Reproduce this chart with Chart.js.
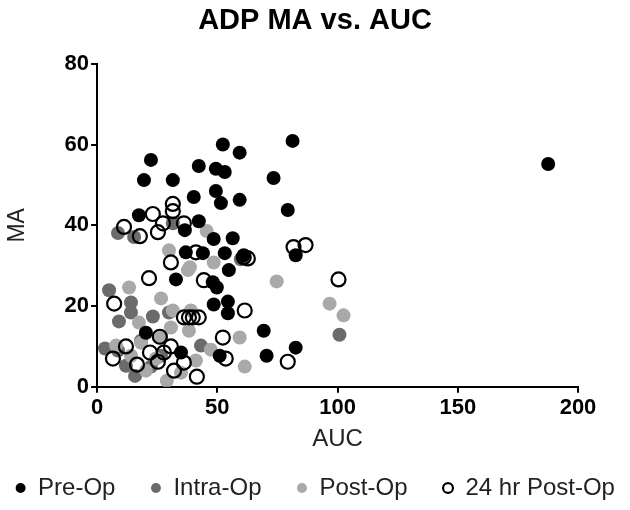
<!DOCTYPE html>
<html>
<head>
<meta charset="utf-8">
<script src="https://cdn.jsdelivr.net/npm/chart.js@4.4.1/dist/chart.umd.min.js"></script>
<style>
  html, body { margin: 0; padding: 0; background: #fff; }
  #wrap { width: 630px; height: 510px; position: relative; }
</style>
</head>
<body>
<div id="wrap"><canvas id="chart"></canvas></div>
<script>
// series labels
const seriesNames = ['Pre-Op', 'Intra-Op', 'Post-Op', '24 hr Post-Op'];

// values: [AUC, MA]
const preOp = [
  [187.6, 55.2], [81.3, 60.9], [52.3, 60.0], [59.3, 58.0], [22.4, 56.2],
  [19.5, 51.2], [31.5, 51.2], [42.3, 54.7], [49.4, 54.0], [53.1, 53.2],
  [73.4, 51.7], [49.4, 48.5], [40.2, 47.0], [51.5, 45.5], [59.3, 46.3],
  [79.3, 43.8], [17.4, 42.5], [42.3, 41.0], [36.5, 38.8], [48.5, 36.6],
  [56.4, 36.8], [82.6, 32.6], [36.9, 33.3], [44.0, 33.1], [53.1, 33.1],
  [61.0, 32.6], [54.8, 28.9], [48.1, 25.9], [49.8, 24.6], [48.5, 20.4],
  [54.4, 21.1], [54.4, 18.2], [69.3, 13.9], [70.5, 7.7], [82.6, 9.7],
  [51.0, 7.7], [20.3, 13.4], [34.9, 8.5], [32.8, 26.6]
];
const intraOp = [
  [8.7, 38.1], [15.4, 37.1], [31.5, 40.5], [59.8, 31.6], [43.2, 10.2],
  [100.8, 12.9], [5.0, 23.9], [14.1, 20.9], [14.1, 18.4], [9.1, 16.2],
  [23.2, 17.4], [29.9, 18.4], [8.7, 9.0], [12.0, 5.2], [15.8, 2.7],
  [22.4, 5.0], [26.6, 7.7], [18.3, 11.4], [3.3, 9.5]
];
const postOp = [
  [45.6, 38.6], [48.5, 30.8], [38.6, 29.6], [74.7, 26.1], [59.3, 12.2],
  [61.4, 5.0], [47.3, 9.2], [38.2, 13.9], [41.1, 6.5], [96.7, 20.6],
  [102.5, 17.7], [13.3, 24.6], [26.6, 21.9], [31.5, 18.9], [17.4, 15.9],
  [26.6, 12.2], [30.7, 14.7], [18.3, 10.9], [29.9, 33.8], [37.8, 28.9],
  [29.0, 1.5], [7.9, 10.2], [14.1, 7.7], [24.5, 7.0], [20.3, 4.0],
  [34.9, 3.5], [39.0, 18.9]
];
const postOp24 = [
  [31.5, 45.3], [31.5, 43.5], [23.2, 42.8], [11.2, 39.6], [17.8, 37.3],
  [25.3, 38.3], [27.4, 40.5], [36.1, 40.5], [30.7, 30.8], [21.6, 26.9],
  [41.1, 33.3], [61.0, 32.1], [62.7, 31.8], [44.4, 26.4], [61.4, 18.9],
  [52.3, 12.2], [53.5, 7.0], [79.3, 6.2], [41.5, 2.5], [38.2, 17.2],
  [39.8, 17.2], [42.3, 17.2], [36.1, 17.2], [81.7, 34.6], [86.7, 35.1],
  [100.4, 26.6], [7.1, 20.6], [26.1, 12.4], [12.0, 10.0], [6.6, 7.0],
  [16.6, 5.5], [22.0, 8.5], [25.3, 6.2], [30.7, 10.0], [27.8, 8.5],
  [36.1, 6.0], [32.0, 4.0]
];

// axis ticks
const xTicks = [0, 50, 100, 150, 200];
const yTicks = [0, 20, 40, 60, 80];

const toXY = arr => arr.map(p => ({ x: p[0], y: p[1] }));
const FONT = "'Liberation Sans', Arial, sans-serif";

const axisStyle = {
  border: { display: true, color: '#000', width: 2 },
  grid: { display: true, drawOnChartArea: false, drawTicks: true, tickLength: 6, color: '#000', lineWidth: 2 }
};

new Chart(document.getElementById('chart').getContext('2d'), {
  type: 'scatter',
  data: {
    datasets: [
      { label: seriesNames[0], data: toXY(preOp), backgroundColor: '#000', borderColor: '#000', order: 2 },
      { label: seriesNames[1], data: toXY(intraOp), backgroundColor: '#6b6b6b', borderColor: '#6b6b6b', order: 4 },
      { label: seriesNames[2], data: toXY(postOp), backgroundColor: '#a9a9a9', borderColor: '#a9a9a9', order: 3 },
      { label: seriesNames[3], data: toXY(postOp24), backgroundColor: 'rgba(255,255,255,0)', borderColor: '#000', borderWidth: 2.2, order: 1 }
    ]
  },
  options: {
    responsive: true,
    maintainAspectRatio: false,
    animation: false,
    // wide legend row: the layout box is allowed past the canvas edges
    layout: { padding: { left: -30, right: -30, top: 0, bottom: 0 } },
    elements: { point: { radius: 7, borderWidth: 0, hoverRadius: 7 } },
    scales: {
      x: {
        type: 'linear', min: 0, max: 200,
        afterBuildTicks: axis => { axis.ticks = xTicks.map(v => ({ value: v })); },
        ticks: { color: '#000', font: { family: FONT, size: 22, weight: 'bold' }, padding: 2 },
        title: { display: true, text: 'AUC', color: '#222', font: { family: FONT, size: 24 }, padding: { top: 2, bottom: -13 } },
        ...axisStyle
      },
      y: {
        type: 'linear', min: 0, max: 80,
        afterBuildTicks: axis => { axis.ticks = yTicks.map(v => ({ value: v })); },
        ticks: { color: '#000', font: { family: FONT, size: 22, weight: 'bold' }, padding: 2 },
        title: { display: true, text: 'MA', color: '#222', font: { family: FONT, size: 23 }, padding: { top: 34, bottom: 31 } },
        ...axisStyle
      },
      // empty spacer on the right
      yr: {
        type: 'linear', position: 'right', min: 0, max: 80, display: true,
        ticks: { display: false }, grid: { display: false }, border: { display: false },
        afterFit: s => { s.width = 82; }
      }
    },
    plugins: {
      title: {
        display: true, text: 'ADP MA vs. AUC', color: '#000',
        font: { family: FONT, size: 29, weight: 'bold' },
        padding: { top: 4, bottom: 25 }
      },
      legend: {
        position: 'bottom',
        labels: {
          usePointStyle: true, pointStyle: 'circle', boxWidth: 11, boxHeight: 7,
          color: '#222', font: { family: FONT, size: 24 }, padding: 35,
          sort: (a, b) => a.datasetIndex - b.datasetIndex
        }
      },
      tooltip: { enabled: false }
    }
  }
});
</script>
</body>
</html>
